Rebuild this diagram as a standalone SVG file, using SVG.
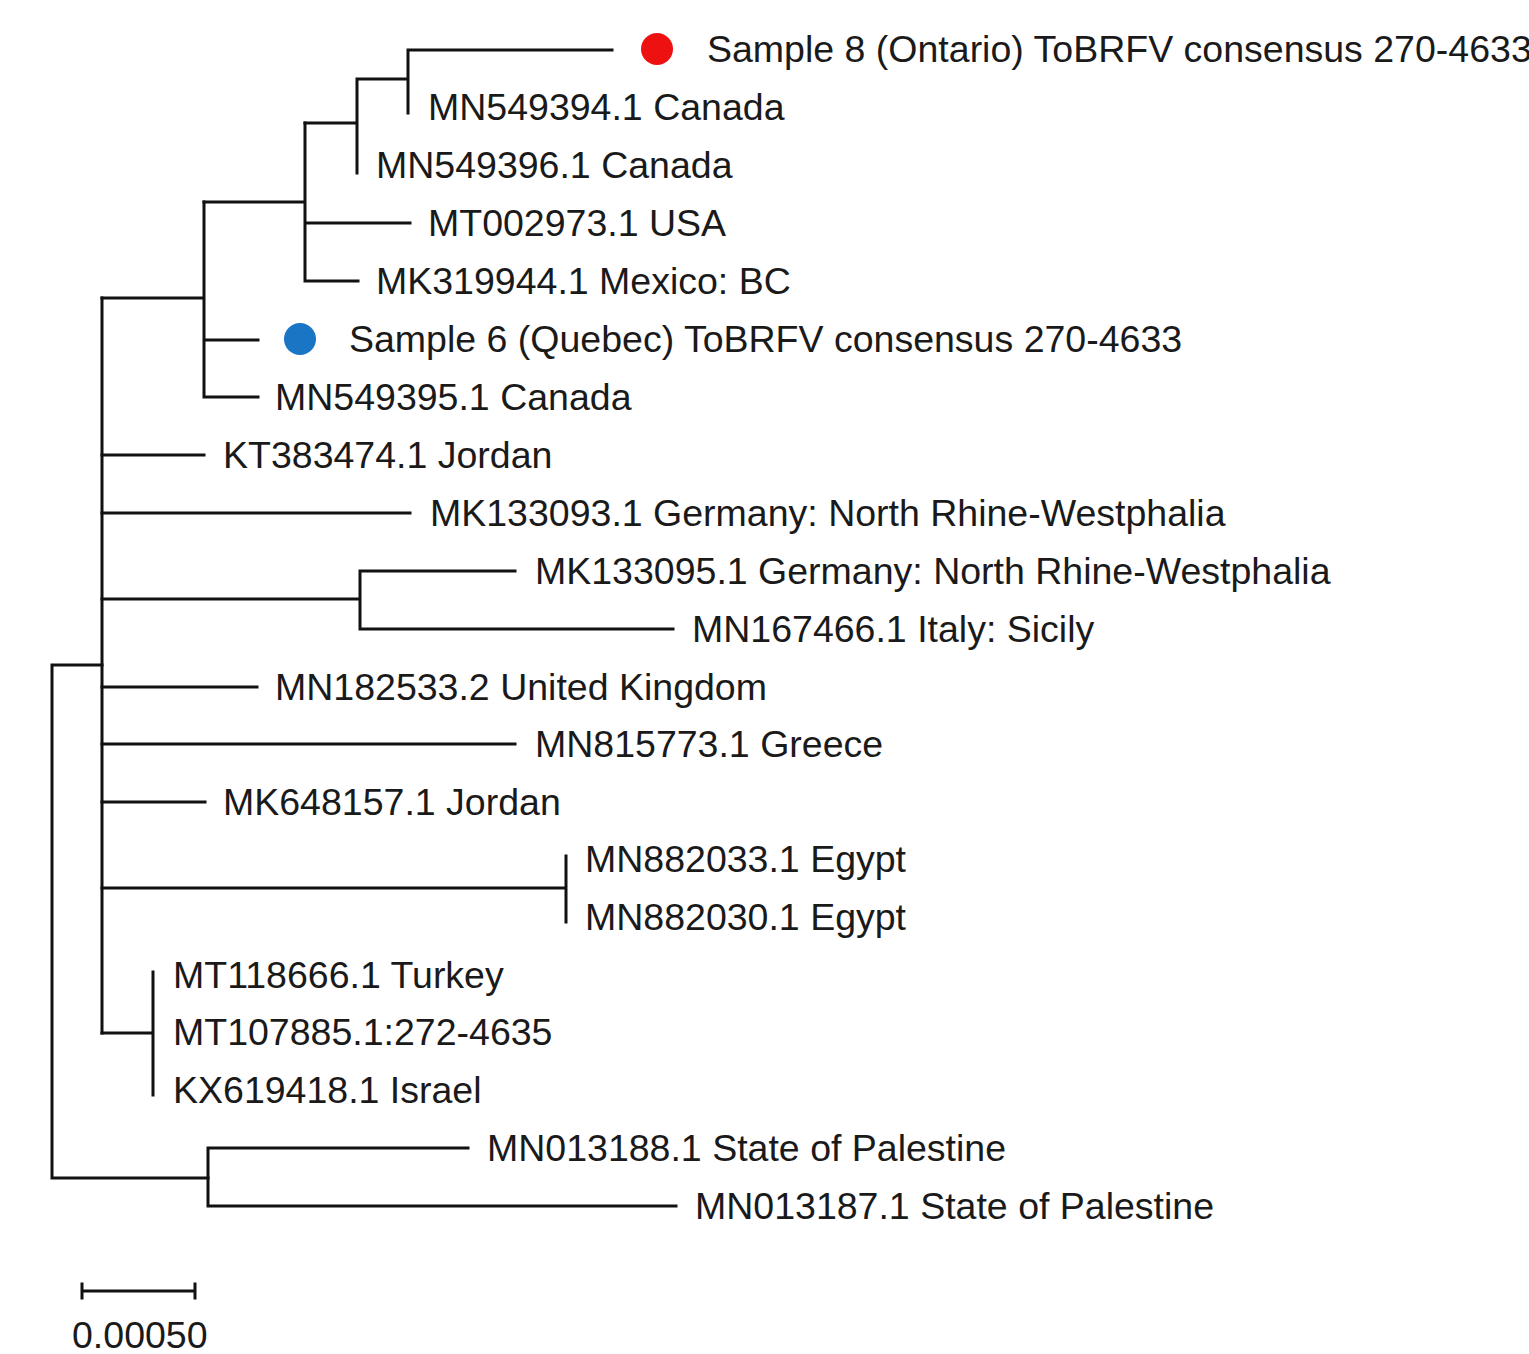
<svg xmlns="http://www.w3.org/2000/svg" width="1529" height="1354" viewBox="0 0 1529 1354">
<style>
.br{fill:none;stroke:#111;stroke-width:3;stroke-linecap:square}
.lb{font-family:"Liberation Sans",Arial,sans-serif;font-size:37.5px;fill:#1a1a1a}
</style>
<rect width="1529" height="1354" fill="#fff"/>
<g id="connectors">
<path class="br" d="M52,665V1178M52,665H102M52,1178H208"/>
<path class="br" d="M208,1148V1206M208,1148H468M208,1206H676"/>
<path class="br" d="M102,298V1033"/>
<path class="br" d="M102,298H204M204,202V397M204,340H258M204,397H258"/>
<path class="br" d="M204,202H305M305,123V281M305,223H410M305,281H358"/>
<path class="br" d="M305,123H357M357,79V173M357,79H408M408,50V113M408,50H612"/>
<path class="br" d="M102,455H204M102,513H410"/>
<path class="br" d="M102,599H360M360,571V629M360,571H515M360,629H673"/>
<path class="br" d="M102,687H257M102,744H515M102,802H205"/>
<path class="br" d="M102,888H566M566,856V922"/>
<path class="br" d="M102,1033H153M153,972V1095"/>
</g>
<g id="scale">
<path class="br" d="M82,1291H195M82,1284V1298M195,1284V1298"/>
<text class="lb" x="72" y="1348">0.00050</text>
</g>
<g id="n-sample8"><circle cx="657" cy="49" r="16" fill="#ee1111"/><text class="lb" x="707" y="62">Sample 8 (Ontario) ToBRFV consensus 270-4633</text></g>
<g id="n-mn549394"><text class="lb" x="428" y="120">MN549394.1 Canada</text></g>
<g id="n-mn549396"><text class="lb" x="376" y="178">MN549396.1 Canada</text></g>
<g id="n-mt002973"><text class="lb" x="428" y="236">MT002973.1 USA</text></g>
<g id="n-mk319944"><text class="lb" x="376" y="294">MK319944.1 Mexico: BC</text></g>
<g id="n-sample6"><circle cx="300" cy="339" r="16" fill="#1a75c4"/><text class="lb" x="349" y="352">Sample 6 (Quebec) ToBRFV consensus 270-4633</text></g>
<g id="n-mn549395"><text class="lb" x="275" y="410">MN549395.1 Canada</text></g>
<g id="n-kt383474"><text class="lb" x="223" y="468">KT383474.1 Jordan</text></g>
<g id="n-mk133093"><text class="lb" x="430" y="526">MK133093.1 Germany: North Rhine-Westphalia</text></g>
<g id="n-mk133095"><text class="lb" x="535" y="584">MK133095.1 Germany: North Rhine-Westphalia</text></g>
<g id="n-mn167466"><text class="lb" x="692" y="642">MN167466.1 Italy: Sicily</text></g>
<g id="n-mn182533"><text class="lb" x="275" y="700">MN182533.2 United Kingdom</text></g>
<g id="n-mn815773"><text class="lb" x="535" y="757">MN815773.1 Greece</text></g>
<g id="n-mk648157"><text class="lb" x="223" y="815">MK648157.1 Jordan</text></g>
<g id="n-mn882033"><text class="lb" x="585" y="872">MN882033.1 Egypt</text></g>
<g id="n-mn882030"><text class="lb" x="585" y="930">MN882030.1 Egypt</text></g>
<g id="n-mt118666"><text class="lb" x="173" y="988">MT118666.1 Turkey</text></g>
<g id="n-mt107885"><text class="lb" x="173" y="1045">MT107885.1:272-4635</text></g>
<g id="n-kx619418"><text class="lb" x="173" y="1103">KX619418.1 Israel</text></g>
<g id="n-mn013188"><text class="lb" x="487" y="1161">MN013188.1 State of Palestine</text></g>
<g id="n-mn013187"><text class="lb" x="695" y="1219">MN013187.1 State of Palestine</text></g>
</svg>
